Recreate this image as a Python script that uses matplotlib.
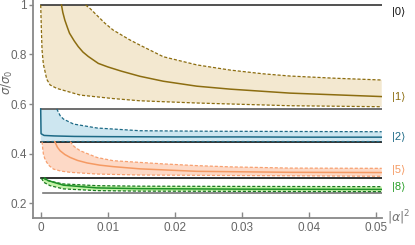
import matplotlib
matplotlib.use("Agg")
import matplotlib.pyplot as plt

# |1> band
up1_x = [0.0067, 0.0074, 0.0081, 0.0096, 0.0108, 0.0133, 0.0148, 0.0183, 0.0233, 0.0283, 0.0332, 0.0372, 0.0440, 0.0509]
up1_y = [1.0, 0.985, 0.966, 0.926, 0.899, 0.859, 0.838, 0.791, 0.758, 0.737, 0.722, 0.713, 0.704, 0.697]
c1_x = [0.0031, 0.0033, 0.0036, 0.0040, 0.0043, 0.0050, 0.0056, 0.0063, 0.0071, 0.0086, 0.0100, 0.0120,
        0.0148, 0.0183, 0.0233, 0.0283, 0.0372, 0.0509]
c1_y = [1.0, 0.970, 0.939, 0.908, 0.886, 0.855, 0.832, 0.810, 0.792, 0.764, 0.750, 0.733,
        0.712, 0.692, 0.672, 0.660, 0.644, 0.630]
lo1_x = [0.0, 0.0001, 0.0002, 0.0004, 0.0006, 0.0009, 0.0014, 0.0024, 0.0059, 0.0108, 0.0148, 0.0233, 0.0372, 0.0509]
lo1_y = [1.0, 0.900, 0.818, 0.760, 0.737, 0.700, 0.677, 0.663, 0.636, 0.622, 0.613, 0.604, 0.593, 0.589]

# |2> band
up2_x = [0.0024, 0.0029, 0.0034, 0.0049, 0.0084, 0.0148, 0.0250, 0.0372, 0.0509]
up2_y = [0.580, 0.553, 0.539, 0.519, 0.503, 0.492, 0.490, 0.489, 0.488]
c2_x = [0.0, 0.00005, 0.0005, 0.002, 0.005, 0.010, 0.020, 0.030, 0.040, 0.0509]
c2_y = [0.580, 0.480, 0.473, 0.471, 0.469, 0.468, 0.467, 0.467, 0.466, 0.466]
lo2_x = [0.0, 0.0509]
lo2_y = [0.452, 0.452]

# |5> band
up5_x = [0.0044, 0.0050, 0.0059, 0.0084, 0.0108, 0.0148, 0.0183, 0.0233, 0.0283, 0.0372, 0.0509]
up5_y = [0.448, 0.428, 0.411, 0.384, 0.371, 0.364, 0.358, 0.351, 0.346, 0.341, 0.340]
c5_x = [0.0021, 0.0025, 0.0029, 0.0036, 0.0044, 0.0055, 0.0069, 0.0088, 0.0108, 0.0148, 0.0233, 0.0372, 0.0509]
c5_y = [0.448, 0.425, 0.411, 0.396, 0.384, 0.372, 0.362, 0.353, 0.347, 0.338, 0.328, 0.324, 0.323]
lo5_x = [0.0002, 0.0003, 0.0004, 0.0006, 0.0009, 0.0013, 0.0019, 0.0030, 0.0044, 0.0084, 0.0148, 0.0372, 0.0509]
lo5_y = [0.448, 0.420, 0.398, 0.380, 0.364, 0.350, 0.337, 0.329, 0.324, 0.317, 0.313, 0.310, 0.308]

# |8> band
up8_x = [0.0004, 0.0008, 0.0014, 0.0034, 0.0084, 0.0148, 0.0300, 0.0509]
up8_y = [0.301, 0.293, 0.288, 0.277, 0.270, 0.268, 0.267, 0.266]
c8_x = [0.0006, 0.0010, 0.0019, 0.0034, 0.0084, 0.0148, 0.0300, 0.0509]
c8_y = [0.301, 0.292, 0.284, 0.272, 0.261, 0.258, 0.256, 0.255]
lo8_x = [0.0001, 0.0005, 0.0014, 0.0034, 0.0084, 0.0148, 0.0300, 0.0509]
lo8_y = [0.300, 0.283, 0.270, 0.257, 0.250, 0.248, 0.247, 0.246]

# horizontal limit lines
lim_y = [1.0, 0.58, 0.448, 0.301, 0.24]
lim_x0 = [0.0, 0.0, 0.0, 0.0, 0.0004]
lim_col = ['#333333', '#555555', '#111111', '#111111', '#777777']

labels = ['|0⟩', '|1⟩', '|2⟩', '|5⟩', '|8⟩']
label_y = [0.972, 0.628, 0.467, 0.333, 0.265]

xticks = [0, 0.01, 0.02, 0.03, 0.04, 0.05]
xtick_labels = ['0', '0.01', '0.02', '0.03', '0.04', '0.05']
yticks = [0.2, 0.4, 0.6, 0.8, 1.0]
ytick_labels = ['0.2', '0.4', '0.6', '0.8', '1']

bands = [
    (up1_x, up1_y, c1_x, c1_y, lo1_x, lo1_y, '#f3e8d0', '#8c6d10', '#8c6d10'),
    (up2_x, up2_y, c2_x, c2_y, lo2_x, lo2_y, '#cde6f0', '#1d6a86', '#1d6a86'),
    (up5_x, up5_y, c5_x, c5_y, lo5_x, lo5_y, '#fdd9c6', '#f59a63', '#f7a070'),
    (up8_x, up8_y, c8_x, c8_y, lo8_x, lo8_y, '#c4f2a8', '#1c8f26', '#1a7a20'),
]
label_col = ['#111111', '#8c6d10', '#1d6a86', '#f59a63', '#2aa02a']

plt.rcParams['mathtext.fontset'] = 'dejavusans'

fig = plt.figure(figsize=(4.15, 2.45), dpi=100)
ax = fig.add_axes([33 / 415, 27 / 245, 349 / 415, 218 / 245])

for i, (ux, uy, cx, cy, lx, ly, fc, lc, dc) in enumerate(bands):
    if i == 1:
        # blue band is capped by the |1> limit line on the left
        px = [0.0] + ux + lx[::-1]
        py = [0.58] + uy + ly[::-1]
    else:
        px = ux + lx[::-1]
        py = uy + ly[::-1]
    ax.fill(px, py, color=fc, lw=0, zorder=1)
    ax.plot(ux, uy, color=dc, lw=0.9, ls=(0, (2.5, 1.5)), zorder=3)
    ax.plot(lx, ly, color=dc, lw=0.9, ls=(0, (2.5, 1.5)), zorder=3)
    ax.plot(cx, cy, color=lc, lw=1.1, zorder=3)

for y, x0, c in zip(lim_y, lim_x0, lim_col):
    ax.plot([x0, 0.0509], [y, y], color=c, lw=1.2, zorder=2)

for lab, y, c in zip(labels, label_y, label_col):
    ax.text(0.0524, y, lab, color=c, fontsize=8, va='center', ha='left',
            family=['Liberation Sans', 'DejaVu Sans'])

ax.set_xlim(-0.00115, 0.05094)
ax.set_ylim(0.1394, 1.0202)

ax.set_xticks(xticks)
ax.set_xticklabels(xtick_labels)
ax.set_yticks(yticks)
ax.set_yticklabels(ytick_labels)

for lab in ax.get_xticklabels() + ax.get_yticklabels():
    lab.set_family('Liberation Sans')
    lab.set_fontsize(8.5)
    lab.set_color('#666666')

ax.tick_params(axis='x', direction='in', length=4, width=1, color='#888888', pad=3)
ax.tick_params(axis='y', direction='out', length=3, width=1, color='#888888', pad=1.5)

for s in ['top', 'right']:
    ax.spines[s].set_visible(False)
for s in ['left', 'bottom']:
    ax.spines[s].set_color('#888888')
    ax.spines[s].set_linewidth(1.3)

ax.text(1.015, 0.0, r'$|\alpha|^2$', transform=ax.transAxes, color='#777777',
        fontsize=9, va='center', ha='left')
fig.text(7 / 415, 1 - 82 / 245, r'$\sigma/\sigma_0$', rotation=90, color='#666666',
         fontsize=8.5, va='center', ha='center')

fig.savefig('out.png', dpi=100)
